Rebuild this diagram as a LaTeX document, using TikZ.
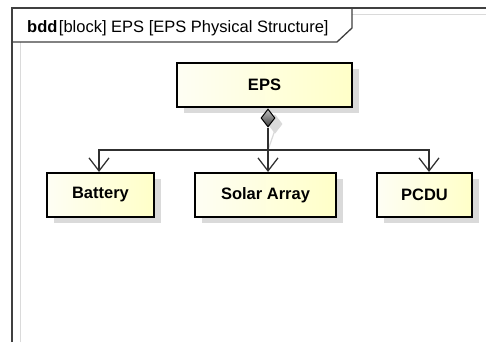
\documentclass[tikz,border=0pt]{standalone}
\usepackage{fontspec}
\setmainfont{Liberation Sans}
\usetikzlibrary{shapes.geometric,shadows,arrows.meta}
\definecolor{boxL}{HTML}{FEFEF4}
\definecolor{boxR}{HTML}{FFFFC8}
\definecolor{frameC}{HTML}{404040}
\definecolor{connC}{HTML}{303030}
\definecolor{shadC}{HTML}{DADADA}
\tikzset{
  blk/.style={draw=black, line width=2.2pt, left color=boxL, right color=boxR,
    minimum height=44pt, inner sep=0pt, font=\fontsize{16.5}{19}\selectfont\bfseries,
    drop shadow={shadow xshift=7pt, shadow yshift=-6pt, fill=shadC, opacity=1}},
  conn/.style={draw=connC, line width=1.2pt},
  tip/.style={-{Straight Barb[length=13pt,width=20pt,line width=1.2pt]}},
  shconn/.style={draw=shadC, line width=1.2pt},
  dia/.style={diamond, draw=black, line width=1pt, top color=gray!50, bottom color=black!75,
    minimum width=14pt, minimum height=18pt, inner sep=0pt, aspect=0.75},
  framel/.style={draw=frameC, line width=1.3pt}
}
\begin{document}
\begin{tikzpicture}[x=1pt,y=-1pt]
\useasboundingbox[fill=white] (0,0) rectangle (486,342);
% frame
\draw[shadC, line width=1pt] (20,342) -- (20,42);
\draw[shadC, line width=1pt] (352,15) -- (486,15);
\draw[framel] (12,342) -- (12,8) -- (486,8);
\draw[framel] (12,42) -- (337,42) -- (352,28) -- (352,8);
\node[anchor=base west, inner sep=0pt, font=\fontsize{16.5}{19}\selectfont] (hdr) at (27,33)
  {\textbf{bdd}\hspace{1.5pt}[block] EPS [EPS Physical Structure]};
% blocks
\node[blk, minimum width=175pt] (eps) at (264.5,85) {EPS};
\node[blk, minimum width=107pt] (bat) at (100.5,195) {Battery};
\node[blk, minimum width=141pt] (sol) at (265.5,195) {Solar Array};
\node[blk, minimum width=95pt] (pcdu) at (424.5,195) {PCDU};
% diamond
\coordinate (dtop) at (268,108.5);
\node[dia, anchor=north, draw=shadC, fill=shadC, top color=shadC, bottom color=shadC] (diash) at ([shift={(7,6)}]dtop) {};
\coordinate (j) at (268,150);
\coordinate (bj) at ([xshift=-1.5pt]bat.north);
\coordinate (pj) at ([xshift=4.5pt]pcdu.north);
% connector shadows
\begin{scope}[shift={(7,6)}]
\draw[shconn] (268,124) -- (j);
\draw[shconn, tip] (j) -| (bj);
\draw[shconn, tip] (j) -| (pj);
\draw[shconn, tip] (j) -- (bj -| j) ;
\end{scope}
\node[dia, anchor=north] (d) at (dtop) {};
% connectors
\draw[conn, tip] (d.south) -- (sol.north -| d.south);
\draw[conn, tip] (j) -| (bj);
\draw[conn, tip] (j) -| (pj);
\end{tikzpicture}
\end{document}
